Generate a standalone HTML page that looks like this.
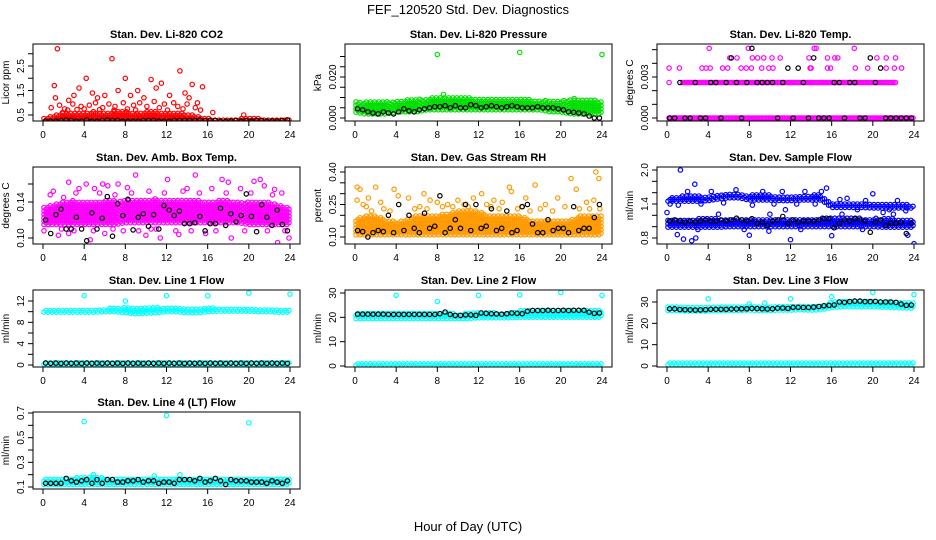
<!DOCTYPE html>
<html><head><meta charset="utf-8"><style>
html,body{margin:0;padding:0;background:#fff;}
svg{display:block;font-family:"Liberation Sans",Arial,sans-serif;}
</style></head><body>
<svg id="chart" width="936" height="540" viewBox="0 0 936 540">
<text x="468" y="14" text-anchor="middle" font-size="13">FEF_120520  Std. Dev. Diagnostics</text>
<text x="468" y="531" text-anchor="middle" font-size="13">Hour of Day (UTC)</text>
</svg>
<script>
// ---- data (hourly band limits at hours 0..24, outliers [hour,value], black means every 0.5h) ----
const hours = [0,1,2,3,4,5,6,7,8,9,10,11,12,13,14,15,16,17,18,19,20,21,22,23,24];
const xTicks = [0,4,8,12,16,20,24];

const co2Lo = [0.22,0.22,0.22,0.22,0.22,0.22,0.22,0.22,0.22,0.22,0.22,0.22,0.22,0.22,0.22,0.22,0.22,0.22,0.22,0.22,0.22,0.22,0.22,0.22,0.22];
const co2Hi = [0.35,0.5,0.6,0.6,0.6,0.65,0.6,0.65,0.65,0.6,0.65,0.65,0.6,0.6,0.55,0.45,0.38,0.33,0.33,0.36,0.38,0.36,0.33,0.33,0.33];
const co2Out = [[1.4,3.2],[1.1,1.7],[1.2,1.2],[3.5,1.6],[4.2,2.0],[4.8,1.4],[5.3,1.2],[6.7,2.8],[7.3,1.5],[8,2.0],[8.5,1.3],[9.2,1.5],[10.5,1.95],[11,1.6],[11.5,1.8],[12.3,1.3],[13.3,2.3],[13.8,1.4],[14.5,1.75],[15.5,1.65],[14.2,1.2],[15,1.0],[2.5,1.1],[6,1.3],[9.8,1.2],[3,1.3],[16.5,0.6],[19.5,0.5],
 [0.8,0.8],[1.6,0.9],[2.1,0.75],[2.9,0.95],[3.7,0.85],[4.5,0.9],[5.1,1.0],[5.8,0.8],[6.4,0.95],[7,0.85],[7.8,1.0],[8.8,0.9],[9.4,1.0],[10.1,0.85],[10.8,1.05],[11.8,0.95],[12.7,1.0],[13.1,0.85],[14,0.95],[14.8,0.8],[15.3,0.7],[2.4,0.7],[4,0.75],[6.9,0.7],[8.2,0.75],[11.3,0.8],[12.1,0.7],[13.6,0.75],[9,0.7],[5.5,0.72],[3.3,0.72],[1.9,0.6]];
const co2Black = [0.25,0.25,0.25,0.28,0.3,0.28,0.25,0.25,0.3,0.25,0.25,0.28,0.3,0.28,0.28,0.25,0.25,0.25,0.25,0.28,0.28,0.28,0.25,0.25,0.25,0.28,0.28,0.28,0.28,0.28,0.3,0.28,0.28,0.28,0.25,0.25,0.25,0.28,0.25,0.28,0.25,0.28,0.28,0.25,0.25,0.25,0.28,0.3];

const presLo = [0.003,0.002,0.002,0.002,0.003,0.003,0.003,0.004,0.004,0.004,0.004,0.004,0.004,0.004,0.004,0.004,0.004,0.004,0.004,0.003,0.003,0.002,0.002,0.002,0.002];
const presHi = [0.008,0.008,0.008,0.008,0.008,0.009,0.009,0.0095,0.0105,0.0105,0.0105,0.01,0.0095,0.0095,0.0095,0.0095,0.009,0.009,0.0088,0.0088,0.0088,0.0088,0.0088,0.0088,0.0085];
const presOut = [[8,0.031],[16,0.032],[24,0.031],[21.3,0.0095],[8.6,0.0115]];
const presBlack = [0.0045,0.004,0.003,0.0025,0.002,0.003,0.0025,0.002,0.003,0.0045,0.0035,0.003,0.004,0.0045,0.005,0.0055,0.0055,0.006,0.005,0.006,0.005,0.005,0.0065,0.006,0.005,0.0055,0.006,0.0055,0.005,0.0055,0.006,0.0055,0.005,0.005,0.005,0.0055,0.005,0.005,0.005,0.0045,0.004,0.003,0.0028,0.0025,0.002,0.001,0.0,0.0];

const tempLevels = [0,0.0026,0.00365,0.0044,0.0051];
const tempZeroRange = [0.2,23.9];
const tempMidRange = [1.5,22.2];
const tempOut = [[0.2,0.00365],[1.2,0.00365],[0.2,0.0026],[4.1,0.0051],[7.9,0.0051],[14.3,0.0051],[14.5,0.0051],[18.2,0.0051],[6.1,0.0044],[6.8,0.0044],[8.3,0.0044],[8.8,0.0044],[9.4,0.0044],[10.2,0.0044],[11,0.0044],[13.8,0.0044],[15.6,0.0044],[16.3,0.0044],[16.6,0.0044],[20.4,0.0044],[21.3,0.0044],[22.2,0.0044],[3.4,0.00365],[3.8,0.00365],[4.2,0.00365],[5.4,0.00365],[5.9,0.00365],[7.2,0.00365],[7.7,0.00365],[8.2,0.00365],[9.2,0.00365],[9.9,0.00365],[10.3,0.00365],[13.9,0.00365],[14,0.00365],[15.6,0.00365],[15.9,0.00365],[18.3,0.00365],[19.5,0.00365],[21.3,0.00365],[22.1,0.00365],[22.8,0.00365]];
const tempBlack = [0,0,0.0026,0,0,0.0026,0,0,0.0026,0.0026,0,0.0026,0.0044,0.0026,0,0.0026,0.0051,0.0026,0.0026,0.0026,0.0026,0,0.0026,0.00365,0,0.00365,0.0026,0,0.0044,0,0,0,0.0026,0.0026,0,0.0026,0.0026,0,0,0.0044,0.0026,0.00365,0,0,0,0,0,0];

const ambLo = [0.115,0.115,0.115,0.115,0.115,0.115,0.115,0.115,0.117,0.117,0.117,0.117,0.117,0.117,0.117,0.117,0.117,0.117,0.117,0.117,0.115,0.115,0.115,0.115,0.115];
const ambHi = [0.134,0.138,0.14,0.142,0.14,0.14,0.142,0.142,0.142,0.142,0.142,0.144,0.142,0.142,0.142,0.142,0.14,0.142,0.142,0.14,0.14,0.14,0.14,0.136,0.134];
const ambOut = [[0.1,0.108],[0.5,0.115],[1,0.152],[1.5,0.103],[2,0.145],[2.5,0.105],[2.5,0.162],[3.5,0.155],[4.2,0.16],[4.6,0.098],[5,0.155],[5.8,0.16],[6.3,0.158],[7.3,0.16],[8.2,0.156],[9,0.17],[9.6,0.194],[10,0.103],[11.4,0.100],[12.1,0.165],[12.5,0.182],[13.2,0.104],[14,0.155],[14.8,0.17],[15.8,0.105],[16.4,0.155],[17.4,0.165],[18,0.162],[18.3,0.1],[19.2,0.155],[20.5,0.163],[21.1,0.165],[21.5,0.158],[22.5,0.154],[22.8,0.095],[23.2,0.15],[23.9,0.1],[3,0.108],[6.8,0.11],[10.5,0.11],
 [0.7,0.148],[1.8,0.11],[3.2,0.15],[4.9,0.108],[5.5,0.15],[6,0.105],[7,0.148],[7.8,0.108],[8.6,0.15],[9.3,0.108],[10.3,0.152],[11,0.11],[11.8,0.15],[12.9,0.108],[13.6,0.152],[14.4,0.108],[15.2,0.15],[16.8,0.108],[17.8,0.15],[19.6,0.108],[20.2,0.15],[21.8,0.108],[22.3,0.148],[23.5,0.108]];
const ambBlack = [0.12,0.105,0.126,0.132,0.11,0.11,0.123,0.11,0.097,0.128,0.11,0.122,0.146,0.102,0.138,0.125,0.143,0.109,0.123,0.127,0.113,0.126,0.11,0.136,0.131,0.125,0.13,0.116,0.116,0.117,0.124,0.108,0.116,0.116,0.133,0.114,0.127,0.118,0.125,0.149,0.124,0.107,0.137,0.123,0.114,0.131,0.115,0.108];

const rhLo = [0.11,0.11,0.11,0.11,0.11,0.11,0.11,0.11,0.11,0.11,0.11,0.11,0.11,0.11,0.11,0.11,0.11,0.11,0.11,0.11,0.11,0.11,0.11,0.11,0.11];
const rhHi = [0.18,0.2,0.2,0.18,0.17,0.18,0.2,0.2,0.2,0.21,0.22,0.22,0.22,0.2,0.2,0.2,0.2,0.18,0.18,0.18,0.18,0.18,0.2,0.2,0.2];
const rhOut = [[0.2,0.33],[0.5,0.32],[0.2,0.27],[1.3,0.28],[2,0.33],[2.5,0.26],[3.8,0.32],[4.2,0.29],[5.2,0.28],[6.7,0.3],[7.3,0.27],[8,0.26],[10,0.27],[11.5,0.28],[12.3,0.3],[13.5,0.27],[14.3,0.26],[15,0.33],[15.2,0.31],[17.5,0.34],[16.6,0.28],[19.7,0.28],[21,0.37],[21.5,0.32],[23.4,0.4],[23.7,0.37],[22.5,0.26],[23.2,0.27],[18.5,0.25],[0.8,0.25],[1.1,0.24],[9,0.25],
 [1.6,0.22],[2.8,0.23],[3.4,0.22],[5.8,0.23],[6.3,0.24],[7,0.23],[8.5,0.24],[9.5,0.24],[10.6,0.25],[11,0.24],[12.8,0.25],[13.2,0.24],[14,0.23],[15.8,0.23],[16.2,0.24],[17,0.22],[18,0.23],[19.2,0.22],[20.4,0.24],[21.8,0.23],[22.8,0.23],[23.8,0.23]];
const rhBlack = [0.13,0.125,0.1,0.12,0.13,0.125,0.2,0.12,0.25,0.13,0.2,0.14,0.12,0.21,0.14,0.15,0.29,0.12,0.14,0.18,0.14,0.25,0.13,0.25,0.14,0.15,0.23,0.13,0.14,0.22,0.12,0.13,0.24,0.25,0.16,0.12,0.12,0.18,0.13,0.14,0.14,0.12,0.24,0.13,0.14,0.14,0.19,0.25];

const flowLo = [0.99,0.99,0.99,0.99,0.99,0.99,1.0,1.0,1.0,1.0,1.0,1.0,1.0,1.0,1.0,1.0,1.0,1.0,1.0,1.0,1.0,0.99,0.99,0.99,0.99];
const flowHi = [1.13,1.13,1.13,1.14,1.14,1.14,1.14,1.15,1.15,1.15,1.15,1.15,1.15,1.15,1.15,1.15,1.16,1.16,1.16,1.15,1.15,1.14,1.14,1.13,1.13];
const flow2Lo = [1.45,1.45,1.45,1.45,1.46,1.49,1.51,1.51,1.47,1.47,1.47,1.46,1.46,1.47,1.47,1.47,1.34,1.34,1.34,1.34,1.33,1.33,1.33,1.33,1.33];
const flow2Hi = [1.5,1.53,1.55,1.55,1.53,1.56,1.58,1.58,1.56,1.56,1.56,1.54,1.53,1.54,1.56,1.56,1.42,1.42,1.42,1.42,1.4,1.4,1.4,1.4,1.38];
const flowOut = [[1.3,2.0],[2.7,1.75],[15.5,1.68],[15,1.62],[20,1.58],[1,0.86],[1.6,0.78],[2.4,0.75],[2.8,0.8],[8,0.85],[12,0.77],[16,0.84],[24,0.7],[23.4,0.85],[0,1.25],[0.5,1.48],[17.5,1.5],[11.5,1.3],[21,1.25],[9.9,0.92],
 [0.3,1.4],[1.1,1.38],[2,1.62],[3.3,1.4],[4.3,1.62],[5.5,1.42],[6.7,1.65],[8.3,1.38],[9.3,1.62],[10.4,1.4],[11.2,1.62],[12.6,1.4],[13.4,1.62],[14.4,1.4],[16.8,1.48],[18.5,1.3],[19.3,1.46],[21.6,1.3],[22.4,1.46],[23.2,1.28],[3,0.95],[5,1.22],[7.5,0.95],[10,1.22],[13,0.95],[17,1.22],[19,0.95],[22,1.22]];
const flowBlack = [1.1,1.12,1.1,1.08,1.1,1.08,1.1,1.12,1.1,1.1,1.12,1.1,1.12,1.15,1.12,1.1,1.14,1.06,1.08,1.02,1.1,1.12,1.18,1.06,1.12,1.08,1.1,1.1,1.1,1.12,1.14,1.14,0.98,1.06,1.12,1.1,1.14,1.12,1.1,0.9,1.08,1.12,1.02,1.06,1.06,1.08,0.88,1.06];

const l1Lo = [9.9,9.9,9.9,9.9,9.9,9.9,10,10,9.8,9.6,9.7,9.8,10,10,9.8,9.8,10,10.1,10.1,10.1,10.1,10,10,9.9,9.9];
const l1Hi = [10.4,10.4,10.4,10.4,10.5,10.5,10.6,10.7,10.8,10.8,10.7,10.8,10.8,10.7,10.6,10.6,10.7,10.7,10.7,10.6,10.6,10.6,10.5,10.4,10.4];
const l1ZeroLo = [0.1,0.1,0.1,0.1,0.1,0.1,0.1,0.1,0.1,0.1,0.1,0.1,0.1,0.1,0.1,0.1,0.1,0.1,0.1,0.1,0.1,0.1,0.1,0.1,0.1];
const l1ZeroHi = [0.7,0.7,0.7,0.7,0.7,0.7,0.7,0.7,0.7,0.7,0.7,0.7,0.7,0.7,0.7,0.7,0.7,0.7,0.7,0.7,0.7,0.7,0.7,0.7,0.7];
const l1Out = [[4,13],[8,12],[12,13],[16,13],[20,13.5],[24,13.3]];
const l1Black = [0.35,0.3,0.35,0.3,0.35,0.3,0.35,0.3,0.35,0.3,0.35,0.3,0.35,0.3,0.35,0.3,0.35,0.3,0.35,0.3,0.35,0.3,0.35,0.3,0.35,0.3,0.35,0.3,0.35,0.3,0.35,0.3,0.35,0.3,0.35,0.3,0.35,0.3,0.35,0.3,0.35,0.3,0.35,0.3,0.35,0.3,0.35,0.3];

const l2Lo = [19.5,19.5,19.5,19.5,19.5,19.5,19.5,19.5,19.5,19.5,19.5,19.5,19.8,19.8,19.8,19.8,20,20,20,20,20,20,20,20,20];
const l2Hi = [22,22,21.8,21.8,21.8,21.8,21.8,21.8,22,21.8,21.5,21.8,22,22,21.8,21.8,23,23.2,23.2,23.2,23.2,23.2,23,23,22.8];
const l2ZeroLo = [0.2,0.2,0.2,0.2,0.2,0.2,0.2,0.2,0.2,0.2,0.2,0.2,0.2,0.2,0.2,0.2,0.2,0.2,0.2,0.2,0.2,0.2,0.2,0.2,0.2];
const l2ZeroHi = [1.2,1.2,1.2,1.2,1.2,1.2,1.2,1.2,1.2,1.2,1.2,1.2,1.2,1.2,1.2,1.2,1.2,1.2,1.2,1.2,1.2,1.2,1.2,1.2,1.2];
const l2Out = [[4,29],[8,26.5],[12,29],[16,29.2],[20,30.2],[24,29]];
const l2Black = [21.3,21.3,21.3,21.3,21.3,21.3,21.2,21.2,21.2,21.2,21.2,21.2,21.2,21.2,21.2,21.2,21.5,22.2,21.2,20.8,20.8,21,21,20.8,21.8,21.6,21.5,21.4,21.3,21.5,21.8,21.6,21.5,22.5,22.8,22.8,22.8,22.9,22.8,22.8,22.9,22.8,22.9,22.9,22.9,22.1,21.6,21.8];

const l3Lo = [26,26,25.8,25.8,25.8,26,26,26,26.2,26,26,26.2,26.2,26.4,26.2,26.4,27.5,27.8,27.8,27.8,27.8,27.6,27.4,27.2,27.2];
const l3Hi = [27.8,27.8,27.6,27.6,27.6,27.8,27.8,27.8,28,28,28,28,28.2,28.2,28.2,28.6,30,30.4,30.4,30.4,30.4,30.2,30,29.8,29.6];
const l3ZeroLo = [0.6,0.6,0.6,0.6,0.6,0.6,0.6,0.6,0.6,0.6,0.6,0.6,0.6,0.6,0.6,0.6,0.6,0.6,0.6,0.6,0.6,0.6,0.6,0.6,0.6];
const l3ZeroHi = [1.8,1.8,1.8,1.8,1.8,1.8,1.8,1.8,1.8,1.8,1.8,1.8,1.8,1.8,1.8,1.8,1.8,1.8,1.8,1.8,1.8,1.8,1.8,1.8,1.8];
const l3Out = [[4,31.5],[8,29],[9.5,29.5],[12,31.5],[16,32.5],[20,34.5],[24,33.5]];
const l3Black = [26.8,26.8,26.5,26.4,26.3,26.2,26.3,26.4,26.6,26.6,26.6,26.6,26.7,26.7,26.8,26.8,27,26.9,26.8,26.7,26.8,27.1,27.2,27,27.5,27.5,27.4,27.4,27.6,27.9,28.2,28.4,28.6,30,29.8,30.2,30.4,30.4,30.2,30.2,30.3,30,30,30,29.8,29,28.4,28.6];

const l4Lo = [0.12,0.12,0.12,0.12,0.12,0.12,0.12,0.12,0.12,0.12,0.12,0.12,0.12,0.12,0.12,0.12,0.12,0.12,0.12,0.12,0.12,0.12,0.12,0.12,0.12];
const l4Hi = [0.175,0.175,0.175,0.175,0.18,0.18,0.175,0.175,0.175,0.175,0.175,0.175,0.175,0.175,0.175,0.175,0.175,0.175,0.175,0.175,0.175,0.175,0.175,0.175,0.175];
const l4Out = [[4,0.63],[12,0.68],[20,0.62],[4.9,0.2],[13.3,0.2],[10.8,0.19]];
const l4Black = [0.13,0.13,0.13,0.13,0.17,0.15,0.14,0.15,0.16,0.13,0.16,0.13,0.16,0.16,0.14,0.14,0.15,0.15,0.16,0.14,0.15,0.15,0.13,0.14,0.14,0.13,0.16,0.16,0.16,0.15,0.17,0.14,0.15,0.17,0.15,0.12,0.16,0.15,0.15,0.15,0.14,0.14,0.14,0.13,0.15,0.14,0.13,0.15];

// ---- layout & config ----
const colL = [33,345,657], rowT = [44,167,290,412], boxW = 267, boxH = 77;
const panels = [
 {name:'co2',title:'Stan. Dev. Li-820 CO2',yl:'Licor ppm',c:0,r:0,col:'#ff0000',map:[0.5,115,2.5,66],ticks:[0.5,1,1.5,2,2.5,3],labs:[0.5,1.5,2.5],fmt:1,bands:[[co2Lo,co2Hi]],out:co2Out,black:co2Black},
 {name:'pressure',title:'Stan. Dev. Li-820 Pressure',yl:'kPa',c:1,r:0,col:'#00e000',map:[0,118,0.02,77],ticks:[0,0.005,0.01,0.015,0.02,0.025,0.03],labs:[0,0.02],fmt:3,bands:[[presLo,presHi]],out:presOut,black:presBlack},
 {name:'temp',title:'Stan. Dev. Li-820 Temp.',yl:'degrees C',c:2,r:0,col:'#ff00ff',map:[0,118,0.003,77],ticks:[0,0.001,0.002,0.003,0.004,0.005],labs:[0,0.003],fmt:3,bands:[],levels:true,out:tempOut,black:tempBlack},
 {name:'amb-box-temp',title:'Stan. Dev. Amb. Box Temp.',yl:'degrees C',c:0,r:1,col:'#ff00ff',map:[0.10,238,0.14,202],ticks:[0.10,0.12,0.14,0.16],labs:[0.10,0.14],fmt:2,bands:[[ambLo,ambHi]],out:ambOut,black:ambBlack},
 {name:'gas-rh',title:'Stan. Dev. Gas Stream RH',yl:'percent',c:1,r:1,col:'#ff9a00',map:[0.10,237,0.40,172],ticks:[0.10,0.15,0.20,0.25,0.30,0.35,0.40],labs:[0.10,0.25,0.40],fmt:2,bands:[[rhLo,rhHi]],out:rhOut,black:rhBlack},
 {name:'sample-flow',title:'Stan. Dev. Sample Flow',yl:'ml/min',c:2,r:1,col:'#0000ff',map:[0.8,238,2.0,170],ticks:[0.8,1.0,1.2,1.4,1.6,1.8,2.0],labs:[0.8,1.4,2.0],fmt:1,bands:[[flowLo,flowHi],[flow2Lo,flow2Hi]],out:flowOut,black:flowBlack},
 {name:'line1-flow',title:'Stan. Dev. Line 1 Flow',yl:'ml/min',c:0,r:2,col:'#00ffff',map:[0,365,12,301],ticks:[0,2,4,6,8,10,12],labs:[0,4,8,12],fmt:0,bands:[[l1Lo,l1Hi],[l1ZeroLo,l1ZeroHi]],out:l1Out,black:l1Black},
 {name:'line2-flow',title:'Stan. Dev. Line 2 Flow',yl:'ml/min',c:1,r:2,col:'#00ffff',map:[0,366,30,293],ticks:[0,10,20,30],labs:[0,10,20,30],fmt:0,bands:[[l2Lo,l2Hi],[l2ZeroLo,l2ZeroHi]],out:l2Out,black:l2Black},
 {name:'line3-flow',title:'Stan. Dev. Line 3 Flow',yl:'ml/min',c:2,r:2,col:'#00ffff',map:[0,366,30,302],ticks:[0,10,20,30],labs:[0,10,20,30],fmt:0,bands:[[l3Lo,l3Hi],[l3ZeroLo,l3ZeroHi]],out:l3Out,black:l3Black},
 {name:'line4-flow',title:'Stan. Dev. Line 4 (LT) Flow',yl:'ml/min',c:0,r:3,col:'#00ffff',map:[0.1,487,0.7,413],ticks:[0.1,0.2,0.3,0.4,0.5,0.6,0.7],labs:[0.1,0.3,0.5,0.7],fmt:1,bands:[[l4Lo,l4Hi]],out:l4Out,black:l4Black}
];

const svg = document.getElementById('chart');
const NS = 'http://www.w3.org/2000/svg';
function mk(tag, attrs, parent){
  const e = document.createElementNS(NS, tag);
  for (const k in attrs) e.setAttribute(k, attrs[k]);
  parent.appendChild(e);
  return e;
}
function interp(arr, h){
  const i = Math.min(23, Math.floor(h)); const f = h - i;
  return arr[i]*(1-f) + arr[i+1]*f;
}

panels.forEach(p => {
  const L = colL[p.c], T = rowT[p.r], B = T + boxH;
  const xS = h => L + 10 + h * (247/24);
  const yS = v => p.map[1] + (v - p.map[0]) * (p.map[3]-p.map[1]) / (p.map[2]-p.map[0]);
  const g = mk('g', {}, svg);
  
  
  const cp = mk('clipPath', {id:'clip-'+p.name}, g);
  mk('rect', {x:L, y:T, width:boxW, height:boxH}, cp);
  const pts = mk('g', {'clip-path':'url(#clip-'+p.name+')', fill:'none', 'stroke-width':'1.2'}, g);
  
  
  const dot = (h, v, col) => {
    const c = mk('circle', {cx:xS(h).toFixed(1), cy:yS(v).toFixed(1), r:2.2, stroke:col}, pts);
    
    
  };
  p.bands.forEach(b => {
    let k = 0;
    for (let h = 0.1; h <= 23.9; h += 0.2, k++) {
      const y1 = yS(interp(b[0], h)), y2 = yS(interp(b[1], h));
      const top = Math.min(y1,y2), bot = Math.max(y1,y2);
      for (let y = bot - (k%2)*1.7; y >= top; y -= 3.4) {
        const c = mk('circle', {cx:xS(h).toFixed(1), cy:y.toFixed(1), r:2.2, stroke:p.col}, pts);
        
        
      }
    }
  });
  if (p.levels) {
    for (let h = tempZeroRange[0]; h <= tempZeroRange[1]; h += 0.15) dot(h, tempLevels[0], p.col);
    for (let h = tempMidRange[0]; h <= tempMidRange[1]; h += 0.15) dot(h, tempLevels[1], p.col);
  }
  p.out.forEach(o => dot(o[0], o[1], p.col));
  p.black.forEach((v, i) => dot(0.25 + 0.5*i, v, '#000'));
  const box = mk('rect', {x:L, y:T, width:boxW, height:boxH, fill:'none', stroke:'#000', 'stroke-width':1}, g);
  
  
  const t = mk('text', {x:L + boxW/2, y:T - 6, 'text-anchor':'middle', 'font-size':11, 'font-weight':'bold'}, g);
  t.textContent = p.title;
  
  
  xTicks.forEach(h => {
    mk('line', {x1:xS(h), x2:xS(h), y1:B, y2:B+5, stroke:'#000'}, g);
    const tl = mk('text', {x:xS(h), y:B+17, 'text-anchor':'middle', 'font-size':10}, g);
    tl.textContent = h;
    
    
  });
  p.ticks.forEach(v => mk('line', {x1:L-5, x2:L, y1:yS(v), y2:yS(v), stroke:'#000'}, g));
  p.labs.forEach(v => {
    const y = yS(v);
    const tl = mk('text', {x:L-9, y:y, 'text-anchor':'middle', 'font-size':10, transform:'rotate(-90 '+(L-9)+' '+y+')'}, g);
    tl.textContent = v.toFixed(p.fmt);
    
    
  });
  const yl = L - 24, ym = T + boxH/2;
  const ylab = mk('text', {x:yl, y:ym, 'text-anchor':'middle', 'font-size':10, transform:'rotate(-90 '+yl+' '+ym+')'}, g);
  ylab.textContent = p.yl;
  
  
});
</script>
</body></html>
